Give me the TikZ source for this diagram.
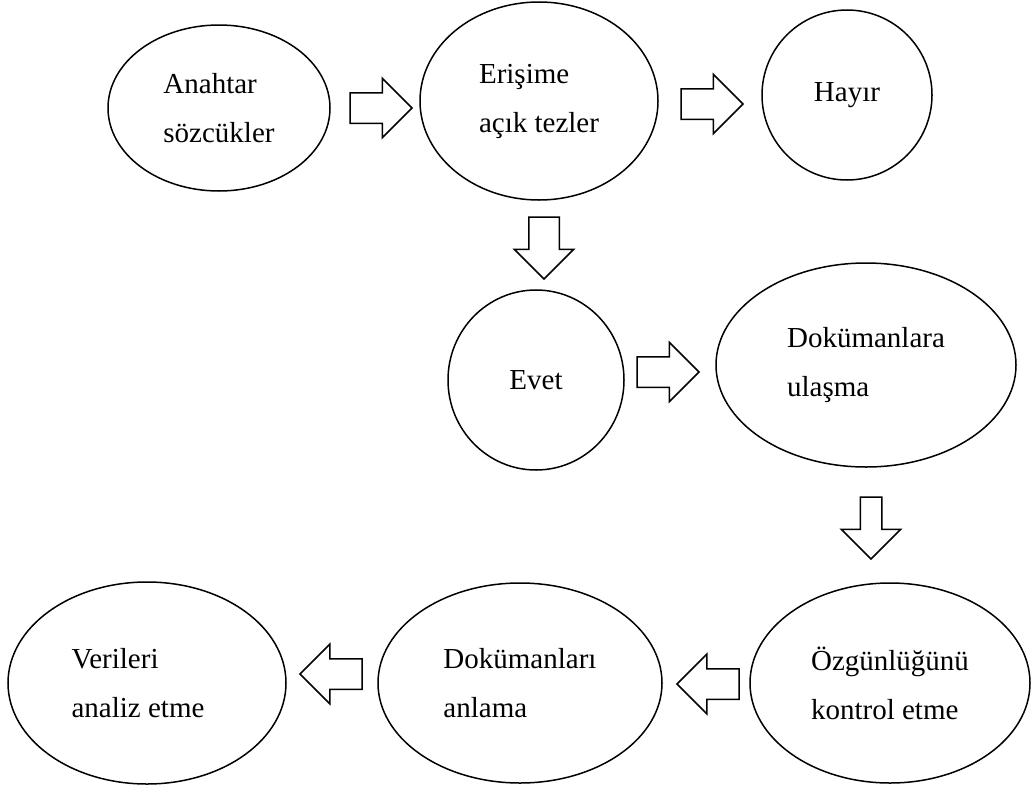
\documentclass[tikz,border=0pt]{standalone}
\usepackage{fontspec}
\setmainfont{Liberation Serif}
\usetikzlibrary{shapes.geometric,shapes.arrows}

\tikzset{
	adim/.style={draw,ellipse,line width=1.5pt,inner sep=0pt,align=left,font=\fontsize{29}{49}\selectfont},
	okblok/.style={draw,single arrow,single arrow head indent=0pt,line width=1.5pt,inner xsep=0pt,inner ysep=14.5pt,single arrow head extend=14.5pt,minimum height=62pt,outer sep=0pt,anchor=tail}
}

\begin{document}
\begin{tikzpicture}[x=1pt,y=-1pt]
	\useasboundingbox (0,0) rectangle (1033,787);
	
	% ust sira
	\node[adim,minimum width=222pt,minimum height=166pt] (anahtar) at (219,108) {Anahtar\\sözcükler};
	\node[adim,minimum width=238pt,minimum height=198pt] (erisim) at (539,101) {Erişime\\açık tezler};
	\node[adim,minimum width=170pt,minimum height=170pt] (hayir) at (847,95) {Hayır};
	
	% orta sira
	\node[adim,minimum width=176pt,minimum height=180pt] (evet) at (536,380) {Evet};
	\node[adim,minimum width=300pt,minimum height=204pt] (ulasma) at (866,365) {Dokümanlara\\ulaşma};
	
	% alt sira
	\node[adim,minimum width=280pt,minimum height=200pt] (ozgun) at (890,683) {Özgünlüğünü\\kontrol etme};
	\node[adim,minimum width=284pt,minimum height=200pt] (anlama) at (520,683) {Dokümanları\\anlama};
	\node[adim,minimum width=278pt,minimum height=202pt] (analiz) at (147,683) {Verileri\\analiz etme\kern18pt};
	
	% oklar
	\node[okblok] (ok1) at (350,108) {};
	\node[okblok] (ok2) at (681,104) {};
	\node[okblok,rotate=-90] (ok3) at (544,217) {};
	\node[okblok] (ok4) at (637,372) {};
	\node[okblok,rotate=-90,inner ysep=10pt,single arrow head extend=19pt] (ok5) at (871,497) {};
	\node[okblok,shape border rotate=180] (ok6) at (739,684) {};
	\node[okblok,shape border rotate=180] (ok7) at (362,674) {};
\end{tikzpicture}
\end{document}
